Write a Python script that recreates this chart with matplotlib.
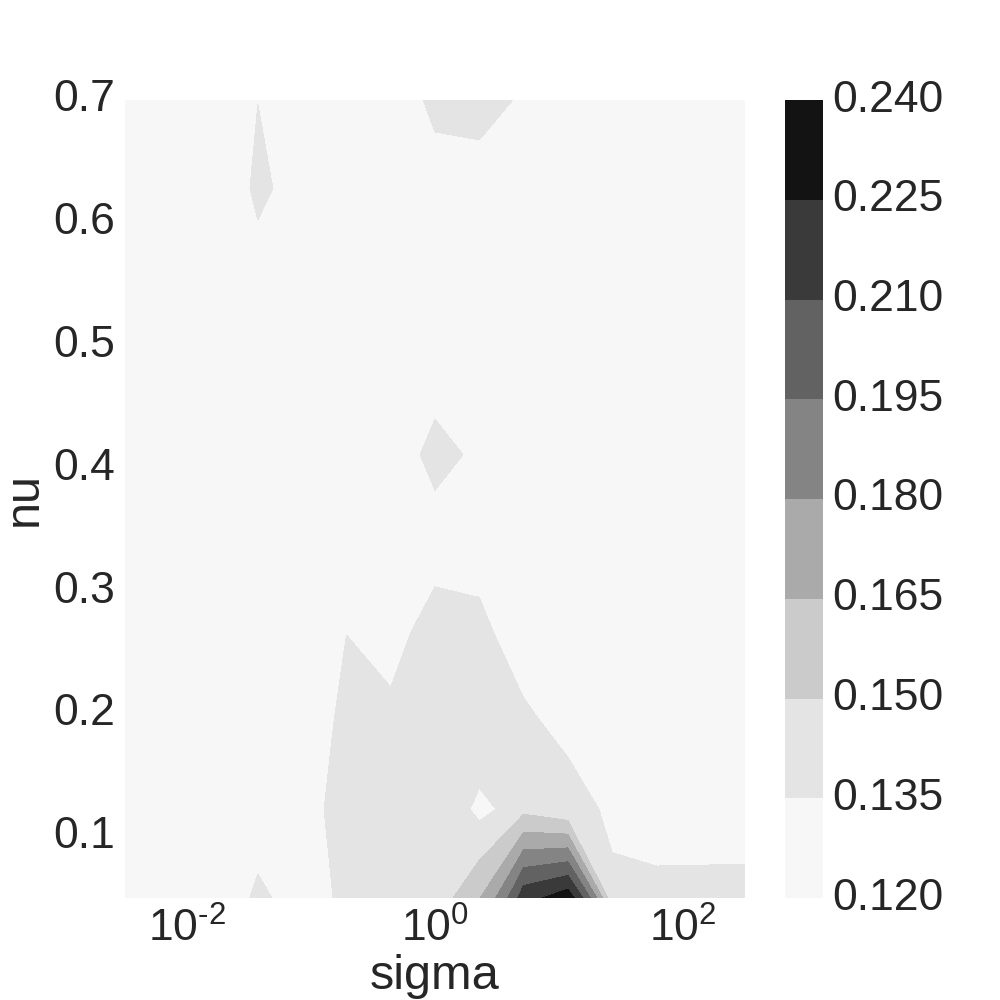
import numpy as np
import matplotlib
matplotlib.use("Agg")
import matplotlib.pyplot as plt
from matplotlib.ticker import FixedLocator, NullLocator, FuncFormatter

# ---- data ----
sigma = [0.0031623, 0.0071969, 0.016379, 0.037276, 0.084834, 0.19307, 0.43940,
         1.0, 2.2758, 5.1795, 11.788, 26.827, 61.054, 138.95, 316.23]
nu = [0.05, 0.1222, 0.1944, 0.2667, 0.3389, 0.4111, 0.4833, 0.5556, 0.6278, 0.7]

# rows: nu from 0.05 (bottom) to 0.7 (top); columns: sigma ascending
score_nu005 = [0.128, 0.128, 0.1288, 0.137, 0.1285, 0.1392, 0.140, 0.1434, 0.1644, 0.2205, 0.2345, 0.137, 0.139, 0.139, 0.139]
score_nu012 = [0.128, 0.128, 0.128, 0.1296, 0.130, 0.1427, 0.143, 0.1462, 0.1306, 0.1459, 0.138, 0.1331, 0.1279, 0.1282, 0.1285]
score_nu019 = [0.128, 0.128, 0.128, 0.128, 0.130, 0.1379, 0.137, 0.142, 0.1489, 0.1358, 0.1329, 0.128, 0.128, 0.128, 0.128]
score_nu027 = [0.128, 0.128, 0.128, 0.128, 0.128, 0.1349, 0.1317, 0.1409, 0.1357, 0.1327, 0.128, 0.128, 0.128, 0.128, 0.128]
score_nu034 = [0.128, 0.128, 0.128, 0.128, 0.128, 0.128, 0.128, 0.1293, 0.1339, 0.128, 0.128, 0.128, 0.128, 0.128, 0.128]
score_nu041 = [0.128, 0.128, 0.128, 0.128, 0.128, 0.128, 0.1300, 0.1388, 0.1317, 0.128, 0.128, 0.128, 0.128, 0.128, 0.128]
score_nu048 = [0.128, 0.128, 0.128, 0.128, 0.128, 0.128, 0.128, 0.1293, 0.128, 0.128, 0.128, 0.128, 0.128, 0.128, 0.128]
score_nu056 = [0.128, 0.128, 0.128, 0.1313, 0.128, 0.128, 0.128, 0.128, 0.128, 0.128, 0.128, 0.128, 0.128, 0.128, 0.128]
score_nu063 = [0.128, 0.128, 0.1288, 0.137, 0.1291, 0.128, 0.128, 0.1279, 0.1289, 0.128, 0.128, 0.128, 0.128, 0.128, 0.128]
score_nu070 = [0.128, 0.128, 0.128, 0.1349, 0.128, 0.128, 0.1277, 0.139, 0.140, 0.1326, 0.128, 0.128, 0.128, 0.128, 0.128]

levels = [0.120, 0.135, 0.150, 0.165, 0.180, 0.195, 0.210, 0.225, 0.240]
y_ticks = [0.1, 0.2, 0.3, 0.4, 0.5, 0.6, 0.7]
x_ticks = [1e-2, 1e0, 1e2]

Z = np.array([score_nu005, score_nu012, score_nu019, score_nu027, score_nu034,
              score_nu041, score_nu048, score_nu056, score_nu063, score_nu070])

# ---- style ----
TXT = "#262626"
TICK_FS = 32
LABEL_FS = 35
plt.rcParams["font.family"] = ["Liberation Sans", "DejaVu Sans"]
plt.rcParams["mathtext.fontset"] = "custom"
plt.rcParams["mathtext.rm"] = "Liberation Sans"
plt.rcParams["mathtext.it"] = "Liberation Sans:italic"
plt.rcParams["mathtext.bf"] = "Liberation Sans:bold"
plt.rcParams["font.size"] = TICK_FS
plt.rcParams["axes.unicode_minus"] = False
plt.rcParams["text.color"] = TXT
plt.rcParams["axes.labelcolor"] = TXT
plt.rcParams["xtick.color"] = TXT
plt.rcParams["ytick.color"] = TXT


def log_label(v, pos):
    e = int(round(np.log10(v)))
    if e < 0:
        return r"$\mathdefault{10^{\text{-}%d}}$" % (-e)
    return r"$\mathdefault{10^{%d}}$" % e


fig = plt.figure(figsize=(10, 10), dpi=100)
ax = fig.add_axes([0.125, 0.102, 0.62, 0.798])
cax = fig.add_axes([0.785, 0.102, 0.038, 0.798])

cs = ax.contourf(sigma, nu, Z, levels=levels, cmap="Greys")
ax.set_xscale("log")
ax.set_xlim(sigma[0], sigma[-1])
ax.set_ylim(nu[0], nu[-1])

ax.xaxis.set_major_locator(FixedLocator(x_ticks))
ax.xaxis.set_major_formatter(FuncFormatter(log_label))
ax.xaxis.set_minor_locator(NullLocator())
ax.set_yticks(y_ticks)
ax.set_yticklabels([f"{v:.1f}" for v in y_ticks])
ax.tick_params(axis="both", which="both", length=0, labelsize=TICK_FS)
ax.tick_params(axis="x", pad=7)
ax.tick_params(axis="y", pad=7)
for lab in ax.get_yticklabels():
    lab.set_verticalalignment("center")
for s in ax.spines.values():
    s.set_visible(False)

ax.set_xlabel("sigma", fontsize=LABEL_FS, labelpad=2)
ax.set_ylabel("nu", fontsize=LABEL_FS, labelpad=5)

cb = fig.colorbar(cs, cax=cax, ticks=levels)
cb.ax.set_yticklabels([f"{v:.3f}" for v in levels])
cb.outline.set_visible(False)
cb.ax.tick_params(length=0, labelsize=TICK_FS, pad=7)
for lab in cb.ax.get_yticklabels():
    lab.set_verticalalignment("center")

fig.savefig("out.png", dpi=100, facecolor="white")
